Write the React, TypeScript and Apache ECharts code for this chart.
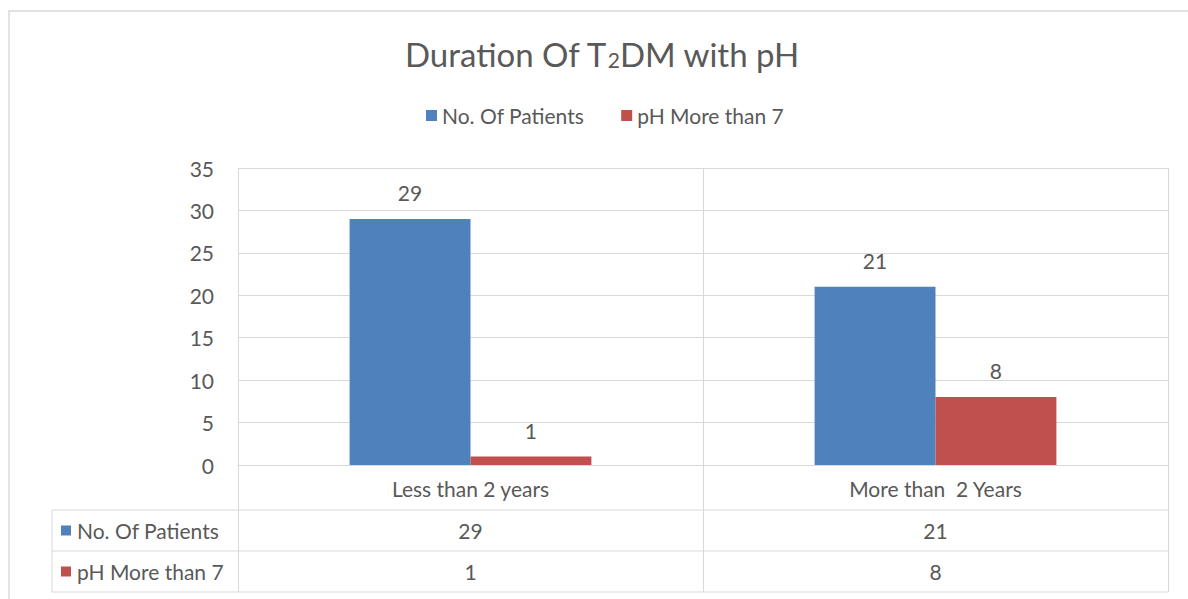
import { useEffect, useRef } from "react";
import * as echarts from "echarts";

const categories = ["Less than 2 years", "More than  2 Years"];
const seriesNames = ["No. Of Patients", "pH More than 7"];
const patients = [29, 21];
const phMoreThan7 = [1, 8];
const yMin = 0;
const yMax = 35;
const yInterval = 5;

const BLUE = "#4f81bd";
const RED = "#c0504d";
const TEXT = "#595959";
const LINE = "#d9d9d9";
const FONT = "Lato, 'Noto Sans', sans-serif";
const FS = 21;

const GRID_LEFT = 238;
const GRID_TOP = 168;
const GRID_RIGHT_X = 1168;
const GRID_BOTTOM_Y = 465;
const TABLE_LEFT = 52;
const ROW1_TOP = 510;
const ROW2_TOP = 551;
const TABLE_BOTTOM = 592;

export default function App() {
  const ref = useRef<HTMLDivElement>(null);
  useEffect(() => {
    document.body.style.margin = "0";
    if (!ref.current) return;
    const chart = echarts.init(ref.current, undefined, { renderer: "svg" });
    const seriesData = [patients, phMoreThan7];
    const colors = [BLUE, RED];
    chart.setOption({
      animation: false,
      backgroundColor: "#ffffff",
      title: {
        text: "{a|Duration Of T}{s|2}{a|DM with pH}",
        left: 400,
        top: 25,
        textStyle: {
          fontWeight: "normal",
          rich: {
            a: { fontFamily: FONT, fontSize: 33, fontWeight: "normal", color: TEXT, verticalAlign: "bottom", lineHeight: 40 },
            s: { fontFamily: FONT, fontSize: 21, fontWeight: "normal", color: TEXT, verticalAlign: "bottom", lineHeight: 35 },
          },
        },
      },
      legend: {
        top: 100,
        left: 421,
        itemWidth: 11,
        itemHeight: 11,
        itemGap: 37,
        icon: "rect",
        textStyle: { fontFamily: FONT, fontSize: FS, color: TEXT },
        data: seriesNames,
      },
      grid: {
        left: GRID_LEFT,
        top: GRID_TOP,
        right: 1188 - GRID_RIGHT_X,
        bottom: 599 - GRID_BOTTOM_Y,
        containLabel: false,
      },
      xAxis: {
        type: "category",
        data: categories,
        axisLine: { show: true, lineStyle: { color: LINE, width: 1 } },
        axisTick: { show: true, length: TABLE_BOTTOM - GRID_BOTTOM_Y, lineStyle: { color: LINE, width: 1 } },
        splitLine: { show: true, lineStyle: { color: LINE, width: 1 } },
        axisLabel: { fontFamily: FONT, fontSize: FS, color: TEXT, margin: 13 },
      },
      yAxis: {
        type: "value",
        min: yMin,
        max: yMax,
        interval: yInterval,
        axisLine: { show: false },
        axisTick: { show: false },
        splitLine: { show: true, lineStyle: { color: LINE, width: 1 } },
        axisLabel: { fontFamily: FONT, fontSize: FS, color: TEXT, margin: 24 },
      },
      series: seriesNames.map((name, i) => ({
        name,
        type: "bar",
        data: seriesData[i],
        barGap: "0%",
        barCategoryGap: "48%",
        itemStyle: { color: colors[i] },
        label: {
          show: true,
          position: "top",
          distance: 16,
          fontFamily: FONT,
          fontSize: FS,
          color: TEXT,
        },
      })),
    });

    const centers = categories.map((_, i) => chart.convertToPixel({ xAxisIndex: 0 }, i) as number);
    const graphics: any[] = [
      {
        type: "rect",
        shape: { x: 9, y: 11, width: 1300, height: 700 },
        style: { fill: "none", stroke: LINE, lineWidth: 1.5 },
        silent: true,
      },
      ...[ROW1_TOP, ROW2_TOP, TABLE_BOTTOM].map((y) => ({
        type: "line",
        shape: { x1: TABLE_LEFT, y1: y, x2: GRID_RIGHT_X, y2: y },
        style: { stroke: LINE, lineWidth: 1 },
        silent: true,
      })),
      {
        type: "line",
        shape: { x1: TABLE_LEFT, y1: ROW1_TOP, x2: TABLE_LEFT, y2: TABLE_BOTTOM },
        style: { stroke: LINE, lineWidth: 1 },
        silent: true,
      },
    ];
    const rowTops = [ROW1_TOP, ROW2_TOP];
    const rowBottoms = [ROW2_TOP, TABLE_BOTTOM];
    seriesNames.forEach((name, r) => {
      const cy = (rowTops[r] + rowBottoms[r]) / 2;
      graphics.push({
        type: "rect",
        shape: { x: 61, y: cy - 5, width: 10, height: 10 },
        style: { fill: colors[r] },
        silent: true,
      });
      graphics.push({
        type: "text",
        x: 77,
        y: cy,
        style: { text: name, fontFamily: FONT, fontSize: FS, fill: TEXT, verticalAlign: "middle", align: "left" },
        silent: true,
      });
      seriesData[r].forEach((v, c) => {
        graphics.push({
          type: "text",
          x: centers[c],
          y: cy,
          style: { text: String(v), fontFamily: FONT, fontSize: FS, fill: TEXT, verticalAlign: "middle", align: "center" },
          silent: true,
        });
      });
    });
    chart.setOption({ graphic: graphics });

    return () => chart.dispose();
  }, []);
  return <div ref={ref} style={{ width: 1188, height: 599 }} />;
}
